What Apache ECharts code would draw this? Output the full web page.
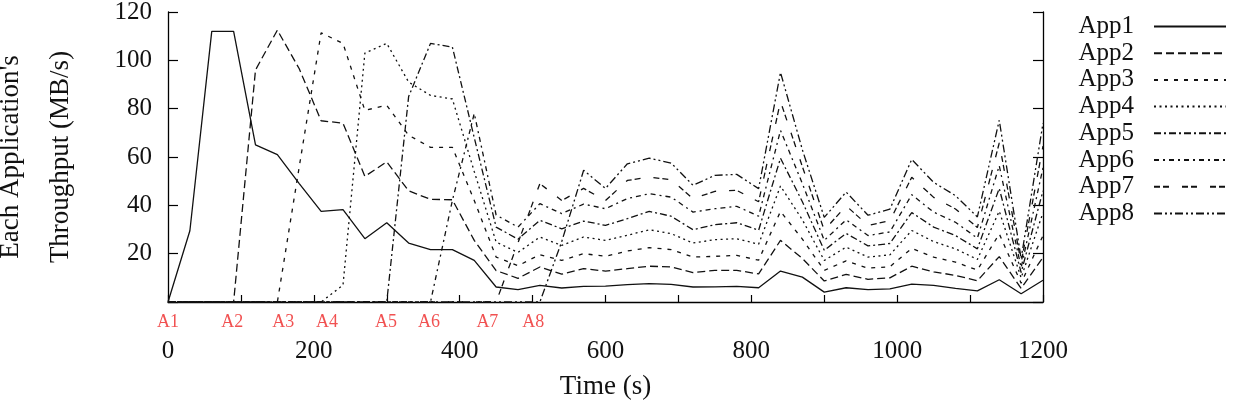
<!DOCTYPE html>
<html><head><meta charset="utf-8">
<script src="https://cdn.jsdelivr.net/npm/echarts@6/dist/echarts.min.js"></script>
<style>html,body{margin:0;padding:0;background:#fff}#c{width:1240px;height:401px}</style>
</head><body><div id="c"></div>
<script>
const times = [0,30,60,90,120,150,180,210,240,270,300,330,360,390,420,450,480,510,540,570,600,630,660,690,720,750,780,810,840,870,900,930,960,990,1020,1050,1080,1110,1140,1170,1200];
const app1 = [0,29.5,112,112,65,61,49,37.5,38.2,26.2,32.8,24.4,21.7,21.7,17.2,6.2,5.1,6.9,5.8,6.5,6.6,7.2,7.6,7.3,6.2,6.3,6.5,5.9,12.8,10.3,4.1,5.9,5.1,5.4,7.4,6.9,5.6,4.6,9.2,3.4,9.0];
const app2 = [0,0,0,0,96,112.5,96.5,75,74,52,58,46,42.5,42.3,25.5,13.0,9.8,14.5,11.5,13.8,12.8,13.8,14.8,14.5,12.2,13.1,13.1,11.6,25.5,18,8.7,11.4,9.4,10,14.8,12.5,11,8.8,18.8,5.6,18.5];
const app3 = [0,0,0,0,0,0,56,111.4,107,79.3,81.4,69,64,64,42,18.6,15,19.6,17.2,20,18.9,21.1,22.5,21.7,18.6,18.9,19.3,17.3,37.5,26,13.1,17,14,14.6,22.2,18.6,16.5,13.2,28.2,7.8,27.5];
const app4 = [0,0,0,0,0,0,0,0,7,103,107,91,85.5,84,54,24.8,20.5,26.9,23.4,26.9,25.5,27.6,29.9,28.3,24.4,25.8,26.2,23.9,48,34,17.2,22.7,18.6,19.5,29.6,25,22,17.6,37.6,10,37];
const app5 = [0,0,0,0,0,0,0,0,0,0,0,85,107,105.5,68,31,26,33.8,30.3,33.5,31.7,34.5,37.5,35.5,29.9,32,32.8,29.7,59.5,41.5,21.4,28.4,23.2,24.2,37,31,27.5,22,47,12.2,46];
const app6 = [0,0,0,0,0,0,0,0,0,0,0,0,0,42,78,36,31,40.7,36.6,40.5,38.6,42.8,44.8,43.4,37.2,38.6,39.6,35.5,71,49,25.5,34,27.5,29,44.4,37.2,33,26.4,56.4,14.2,55.5];
const app7 = [0,0,0,0,0,0,0,0,0,0,0,0,0,0,0,0,24.5,49,42,47,42,50.3,51.7,50.6,42.8,45.8,46.2,41.5,83,56,29.7,39.8,31.7,33.6,51.6,43.3,38.5,30.8,65.8,16.2,64.5];
const app8 = [0,0,0,0,0,0,0,0,0,0,0,0,0,0,0,0,0,0,25,54.5,47,57.2,59.5,57.5,48.3,52.4,52.8,46.9,95,63,35,45.5,35.9,38.4,59,49.5,44,35.2,75.2,18,74];
const seriesNames = ['App1','App2','App3','App4','App5','App6','App7','App8'];
const startLabels = ['A1','A2','A3','A4','A5','A6','A7','A8'];
const startLabelTimes = [0,88,158,218,299,358,438,501];

const FONT = 'Liberation Serif';
const allData = [app1,app2,app3,app4,app5,app6,app7,app8];
const dashes = ['solid',[8,4],[4,6],[2,3.5],[7,3,2,3],[5,4,2,4],[6,3,6,13],[8,3,2,3,2,3]];

const chart = echarts.init(document.getElementById('c'), null, {renderer:'canvas'});
const lineSeries = allData.map((arr, k) => ({
  name: seriesNames[k],
  type: 'line',
  data: times.map((t, i) => [t, arr[i]]),
  symbol: 'none',
  animation: false,
  lineStyle: {color: '#111', width: 1.3, type: dashes[k]},
  itemStyle: {color: '#111'}
}));
lineSeries.push({
  type: 'scatter',
  silent: true,
  animation: false,
  symbolSize: 1,
  itemStyle: {color: 'rgba(0,0,0,0)'},
  data: startLabelTimes.map((t, i) => ({value: [t, 0], label: {formatter: startLabels[i]}})),
  label: {show: true, position: 'bottom', distance: 11, color: '#ee2626', fontSize: 18, fontFamily: FONT}
});

chart.setOption({
  backgroundColor: '#fff',
  animation: false,
  textStyle: {fontFamily: FONT},
  grid: {left: 168, right: 197, top: 12, bottom: 99, outerBoundsMode: 'none', containLabel: false},
  legend: {
    data: seriesNames,
    orient: 'vertical',
    right: 8, top: 9,
    align: 'right',
    itemWidth: 72, itemHeight: 10, itemGap: 1.7,
    itemStyle: {opacity: 0},
    textStyle: {fontFamily: FONT, fontSize: 25, color: '#111', lineHeight: 24, padding: [0, 15, 0, 0]}
  },
  xAxis: {
    type: 'value', min: 0, max: 1200, interval: 100,
    name: 'Time (s)', nameLocation: 'middle', nameGap: 71,
    nameTextStyle: {fontFamily: FONT, fontSize: 27, color: '#111'},
    axisLine: {show: true, onZero: false, lineStyle: {color: '#000', width: 1.3}},
    axisTick: {show: true, inside: true, length: 7, lineStyle: {color: '#000', width: 1.2}},
    axisLabel: {margin: 37, fontFamily: FONT, fontSize: 25, color: '#111',
      formatter: v => (v % 200 === 0 ? String(v) : '')},
    splitLine: {show: false}
  },
  yAxis: [{
    type: 'value', min: 0, max: 120, interval: 20,
    name: "Each Application's\nThroughput (MB/s)", nameLocation: 'middle', nameRotate: 90, nameGap: 82,
    nameTextStyle: {fontFamily: FONT, fontSize: 27, color: '#111', lineHeight: 50},
    axisLine: {show: true, onZero: false, lineStyle: {color: '#000', width: 1.3}},
    axisTick: {show: true, inside: true, length: 10, lineStyle: {color: '#000', width: 1.2}},
    axisLabel: {margin: 16, fontFamily: FONT, fontSize: 25, color: '#111',
      formatter: v => (v === 0 ? '' : String(v))},
    splitLine: {show: false}
  }, {
    type: 'value', min: 0, max: 120, interval: 20, position: 'right',
    axisLine: {show: true, onZero: false, lineStyle: {color: '#000', width: 1.3}},
    axisTick: {show: true, inside: true, length: 10, lineStyle: {color: '#000', width: 1.2}},
    axisLabel: {show: false},
    splitLine: {show: false}
  }],
  series: lineSeries
});
</script></body></html>
